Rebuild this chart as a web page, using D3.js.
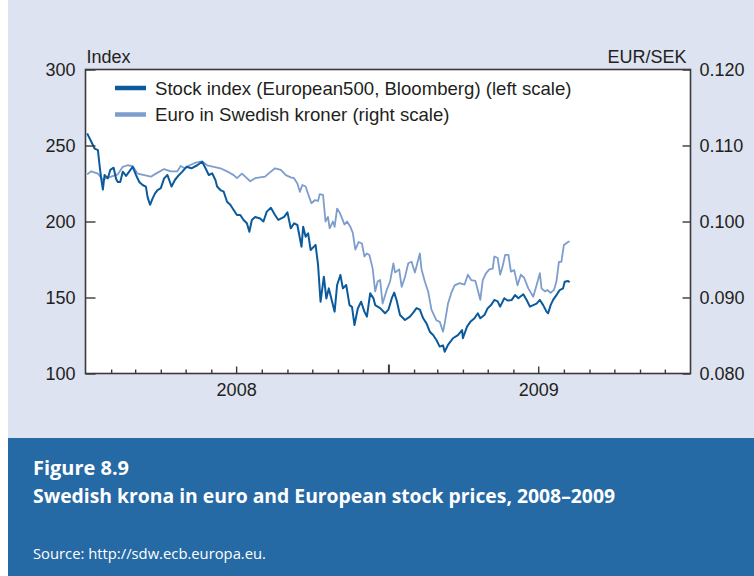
<!DOCTYPE html>
<html>
<head>
<meta charset="utf-8">
<script src="https://cdn.jsdelivr.net/npm/d3@7"></script>
<style>
  html, body { margin: 0; padding: 0; background: #ffffff; }
  svg { display: block; }
</style>
</head>
<body>
<svg id="chart" width="754" height="576"></svg>
<script>
// Stock index (European500, Bloomberg), left scale
const stockDates = [
  "2008-01-03","2008-01-08","2008-01-12","2008-01-16","2008-01-18","2008-01-20","2008-01-22","2008-01-24",
  "2008-01-28","2008-01-31","2008-02-04","2008-02-07","2008-02-09","2008-02-12","2008-02-15","2008-02-19",
  "2008-02-23","2008-02-27","2008-03-02","2008-03-06","2008-03-10","2008-03-14","2008-03-16","2008-03-19",
  "2008-03-22","2008-03-25","2008-03-28","2008-04-01","2008-04-05","2008-04-09","2008-04-14","2008-04-18",
  "2008-04-23","2008-04-27","2008-05-02","2008-05-08","2008-05-15","2008-05-21","2008-05-25","2008-05-29",
  "2008-06-02","2008-06-06","2008-06-08","2008-06-12","2008-06-16","2008-06-20","2008-06-24","2008-06-28",
  "2008-07-02","2008-07-06","2008-07-10","2008-07-14","2008-07-17","2008-07-20","2008-07-24","2008-07-30",
  "2008-08-03","2008-08-07","2008-08-12","2008-08-17","2008-08-21","2008-08-28","2008-09-01","2008-09-05",
  "2008-09-09","2008-09-13","2008-09-18","2008-09-20","2008-09-23","2008-09-26","2008-09-29","2008-10-05",
  "2008-10-08","2008-10-11","2008-10-15","2008-10-18","2008-10-21","2008-10-24","2008-10-28","2008-10-31",
  "2008-11-04","2008-11-07","2008-11-11","2008-11-15","2008-11-18","2008-11-21","2008-11-25","2008-11-29",
  "2008-12-03","2008-12-06","2008-12-10","2008-12-14","2008-12-16","2008-12-22","2008-12-28","2009-01-01",
  "2009-01-05","2009-01-08","2009-01-11","2009-01-15","2009-01-21","2009-01-27","2009-01-31","2009-02-04",
  "2009-02-08","2009-02-12","2009-02-16","2009-02-20","2009-02-24","2009-02-28","2009-03-04","2009-03-08",
  "2009-03-10","2009-03-14","2009-03-20","2009-03-26","2009-03-31","2009-04-01","2009-04-06","2009-04-10",
  "2009-04-15","2009-04-19","2009-04-22","2009-04-27","2009-05-01","2009-05-05","2009-05-09","2009-05-13",
  "2009-05-16","2009-05-21","2009-05-25","2009-05-30","2009-06-03","2009-06-07","2009-06-13","2009-06-17",
  "2009-06-21","2009-06-25","2009-06-29","2009-07-03","2009-07-07","2009-07-11","2009-07-13","2009-07-16",
  "2009-07-19","2009-07-23","2009-07-27","2009-07-31","2009-08-02","2009-08-06","2009-08-08"
];
const stockValues = [
  258, 252.5, 248, 247, 237, 228, 221, 230.6,
  228.4, 234, 235.4, 228, 226, 226, 232.8, 230,
  233, 236, 230.6, 226, 224, 223, 216, 211,
  215, 218.5, 220.7, 222, 228.4, 230.6, 223, 227.3,
  230.6, 232.8, 236, 235, 237, 239.3, 235, 230.6,
  231.7, 227.3, 223, 220.7, 219.6, 213, 211, 207.6,
  204.3, 204.3, 201, 198.8, 193.3, 201, 203, 202,
  200, 206.5, 209, 204.3, 201, 203, 206, 195.5,
  198.8, 197.7, 183.4, 196.6, 190, 192.2, 181.3, 184.6,
  171.4, 147.2, 163.7, 149.4, 156, 149.4, 140.7, 158.2,
  164.8, 156, 158.2, 145, 143.8, 131.9, 142.8, 147.2,
  140.7, 137.4, 152.8, 149.4, 145, 143, 139.6, 142,
  149.4, 153.2, 148, 138.5, 135.2, 137.4, 140, 143,
  142, 136.3, 133, 127.5, 125.3, 122, 117.7, 118.5,
  114.3, 118.8, 123.2, 125.3, 128.6, 123.2, 130.8, 134,
  136.3, 139.6, 136.3, 138.5, 143, 145, 148.4, 147.5,
  144, 149.5, 148, 148.4, 151.6, 149.5, 152.1, 148.4,
  144, 145, 146, 148.4, 145, 140.7, 139.6, 145,
  148.4, 151.6, 154.9, 156, 160.4, 160.9, 160
];

// Euro in Swedish kronor (EUR/SEK), right scale
const euroDates = [
  "2008-01-03","2008-01-08","2008-01-16","2008-01-22","2008-01-26","2008-02-01","2008-02-09","2008-02-15",
  "2008-02-21","2008-02-27","2008-03-04","2008-03-12","2008-03-20","2008-03-26","2008-04-05","2008-04-13",
  "2008-04-21","2008-04-25","2008-04-30","2008-05-06","2008-05-12","2008-05-21","2008-05-27","2008-06-04",
  "2008-06-12","2008-06-20","2008-06-28","2008-07-02","2008-07-08","2008-07-12","2008-07-18","2008-07-24",
  "2008-07-30","2008-08-05","2008-08-09","2008-08-17","2008-08-24","2008-08-30","2008-09-05","2008-09-09",
  "2008-09-13","2008-09-16","2008-09-19","2008-09-23","2008-09-27","2008-09-30","2008-10-04","2008-10-08",
  "2008-10-10","2008-10-14","2008-10-17","2008-10-20","2008-10-22","2008-10-26","2008-10-28","2008-10-31",
  "2008-11-03","2008-11-06","2008-11-09","2008-11-12","2008-11-16","2008-11-19","2008-11-22","2008-11-26",
  "2008-11-30","2008-12-03","2008-12-06","2008-12-09","2008-12-13","2008-12-16","2008-12-19","2008-12-22",
  "2008-12-25","2008-12-30","2009-01-03","2009-01-07","2009-01-09","2009-01-14","2009-01-17","2009-01-21",
  "2009-01-25","2009-01-29","2009-02-02","2009-02-08","2009-02-10","2009-02-14","2009-02-18","2009-02-22",
  "2009-02-28","2009-03-04","2009-03-08","2009-03-10","2009-03-14","2009-03-18","2009-03-22","2009-03-28",
  "2009-04-03","2009-04-07","2009-04-11","2009-04-16","2009-04-19","2009-04-22","2009-04-25","2009-04-29",
  "2009-05-03","2009-05-07","2009-05-09","2009-05-13","2009-05-16","2009-05-19","2009-05-22","2009-05-26",
  "2009-05-29","2009-06-02","2009-06-06","2009-06-10","2009-06-14","2009-06-19","2009-06-25","2009-06-29",
  "2009-07-03","2009-07-05","2009-07-09","2009-07-12","2009-07-16","2009-07-20","2009-07-23","2009-07-26",
  "2009-07-29","2009-08-01","2009-08-06","2009-08-08"
];
const euroValues = [
  0.1062, 0.1066, 0.1063, 0.1055, 0.1057, 0.1059, 0.1062, 0.1072,
  0.1074, 0.1073, 0.1063, 0.1061, 0.1059, 0.1063, 0.1069, 0.1066,
  0.1066, 0.1073, 0.1070, 0.1074, 0.1077, 0.1079, 0.1074, 0.1072,
  0.1070, 0.1066, 0.1061, 0.1057, 0.1063, 0.1059, 0.1053, 0.1057,
  0.1058, 0.1059, 0.1063, 0.1070, 0.1068, 0.1061, 0.1058, 0.1057,
  0.1050, 0.1039, 0.1048, 0.1046, 0.1033, 0.1024, 0.1028, 0.1027,
  0.1036, 0.1035, 0.1000, 0.1006, 0.0991, 0.1000, 0.0993, 0.1017,
  0.1012, 0.1004, 0.0996, 0.1000, 0.0993, 0.0985, 0.0963, 0.0973,
  0.0971, 0.0954, 0.0958, 0.0956, 0.0938, 0.0908, 0.0921, 0.0923,
  0.0892, 0.0910, 0.0921, 0.0945, 0.0933, 0.0937, 0.0914, 0.0927,
  0.0945, 0.0947, 0.0933, 0.0958, 0.0937, 0.0921, 0.0908, 0.0884,
  0.0870, 0.0868, 0.0855, 0.0866, 0.0892, 0.0906, 0.0916, 0.0919,
  0.0917, 0.0930, 0.0923, 0.0922, 0.0910, 0.0897, 0.0923, 0.0932,
  0.0937, 0.0938, 0.0954, 0.0952, 0.0930, 0.0941, 0.0956, 0.0956,
  0.0934, 0.0936, 0.0916, 0.0930, 0.0926, 0.0912, 0.0901, 0.0916,
  0.0932, 0.0912, 0.0908, 0.0910, 0.0906, 0.0910, 0.0921, 0.0947,
  0.0947, 0.0969, 0.0973, 0.0974
];

const leftTicks = [100, 150, 200, 250, 300];
const rightTicks = [0.080, 0.090, 0.100, 0.110, 0.120];
const yearLabels = ["2008", "2009"];
const seriesNames = [
  "Stock index (European500, Bloomberg) (left scale)",
  "Euro in Swedish kroner (right scale)"
];
const seriesColors = ["#0b5a9c", "#7d9dcd"];

const figureNumber = "Figure 8.9";
const figureTitle = "Swedish krona in euro and European stock prices, 2008\u20132009";
const sourceNote = "Source: http://sdw.ecb.europa.eu.";

// ---- layout ----
const W = 754, H = 576;
const plot = { left: 85.5, right: 690.5, top: 69.5, bottom: 373.5 };
const textColor = "#231f20";
const frameColor = "#3a3a3a";
const font = "'Liberation Sans', Arial, Helvetica, sans-serif";

const svg = d3.select("#chart");

// panel backgrounds
svg.append("rect").attr("x", 8).attr("y", 0).attr("width", W - 8).attr("height", 438)
  .attr("fill", "#dde3f0");
svg.append("rect").attr("x", 8).attr("y", 438).attr("width", W - 8).attr("height", H - 438)
  .attr("fill", "#2569a5");
svg.append("rect").attr("x", plot.left).attr("y", plot.top)
  .attr("width", plot.right - plot.left).attr("height", plot.bottom - plot.top)
  .attr("fill", "#ffffff");

// scales
const parse = d3.utcParse("%Y-%m-%d");
const x = d3.scaleUtc()
  .domain([parse("2008-01-01"), parse("2010-01-01")])
  .range([plot.left, plot.right]);
const yL = d3.scaleLinear().domain([100, 300]).range([plot.bottom, plot.top]);
const yR = d3.scaleLinear().domain([0.08, 0.12]).range([plot.bottom, plot.top]);

const stock = stockDates.map((d, i) => ({ date: parse(d), value: stockValues[i] }));
const euro = euroDates.map((d, i) => ({ date: parse(d), value: euroValues[i] }));

// lines
const lineL = d3.line().x(d => x(d.date)).y(d => yL(d.value));
const lineR = d3.line().x(d => x(d.date)).y(d => yR(d.value));

svg.append("path").datum(euro)
  .attr("d", lineR).attr("fill", "none")
  .attr("stroke", seriesColors[1]).attr("stroke-width", 1.8)
  .attr("stroke-linejoin", "round");
svg.append("path").datum(stock)
  .attr("d", lineL).attr("fill", "none")
  .attr("stroke", seriesColors[0]).attr("stroke-width", 2)
  .attr("stroke-linejoin", "round");

// axes
function styleAxis(g) {
  g.select(".domain").remove();
  g.selectAll(".tick line").attr("stroke", frameColor).attr("stroke-width", 1.4);
  g.selectAll(".tick text").attr("fill", textColor)
    .style("font-family", font).style("font-size", "18px");
}

svg.append("g")
  .attr("transform", `translate(${plot.left},0)`)
  .call(d3.axisLeft(yL).tickValues(leftTicks).tickSize(-10).tickPadding(10).tickFormat(d3.format("d")))
  .call(styleAxis);

svg.append("g")
  .attr("transform", `translate(${plot.right},0)`)
  .call(d3.axisRight(yR).tickValues(rightTicks).tickSize(-8).tickPadding(9).tickFormat(d3.format(".3f")))
  .call(styleAxis);

// monthly ticks along the bottom, longer at the half-year and year marks
const months = d3.utcMonth.range(parse("2008-02-01"), parse("2010-01-01"));
svg.append("g")
  .attr("transform", `translate(0,${plot.bottom})`)
  .call(d3.axisBottom(x).tickValues(months).tickSize(0).tickFormat(""))
  .call(styleAxis)
  .selectAll(".tick line")
  .attr("y2", d => d.getUTCMonth() === 0 ? -9 : (d.getUTCMonth() === 6 ? -7 : -4))
  .attr("stroke-width", d => d.getUTCMonth() === 0 ? 2 : 1.4);

// year labels centred on each year
svg.append("g")
  .attr("transform", `translate(0,${plot.bottom})`)
  .call(d3.axisBottom(x)
    .tickValues(yearLabels.map(y => parse(y + "-07-01")))
    .tickSize(0).tickPadding(10)
    .tickFormat(d3.utcFormat("%Y")))
  .call(styleAxis);

// frame
svg.append("rect").attr("x", plot.left).attr("y", plot.top)
  .attr("width", plot.right - plot.left).attr("height", plot.bottom - plot.top)
  .attr("fill", "none").attr("stroke", frameColor).attr("stroke-width", 1.6);

// axis titles
svg.append("text").attr("x", plot.left + 1).attr("y", 63)
  .attr("fill", textColor).style("font-family", font).style("font-size", "18px")
  .text("Index");
svg.append("text").attr("x", plot.right - 4).attr("y", 63).attr("text-anchor", "end")
  .attr("fill", textColor).style("font-family", font).style("font-size", "18px")
  .text("EUR/SEK");

// legend
const legend = svg.append("g").attr("transform", `translate(115,88)`);
seriesNames.forEach((name, i) => {
  const row = legend.append("g").attr("transform", `translate(0,${i * 26.5})`);
  row.append("line").attr("x1", 0).attr("x2", 31).attr("y1", 0).attr("y2", 0)
    .attr("stroke", seriesColors[i]).attr("stroke-width", 4.5);
  row.append("text").attr("x", 40).attr("y", 6.5)
    .attr("fill", textColor).style("font-family", font).style("font-size", "18.6px")
    .text(name);
});

// caption
const capFont = "'Open Sans', 'Noto Sans', sans-serif";
svg.append("text").attr("x", 33).attr("y", 475)
  .attr("fill", "#ffffff").style("font-family", capFont).style("font-weight", 700)
  .style("font-size", "20px").attr("textLength", 96).attr("lengthAdjust", "spacingAndGlyphs")
  .text(figureNumber);
svg.append("text").attr("x", 33).attr("y", 503)
  .attr("fill", "#ffffff").style("font-family", capFont).style("font-weight", 700)
  .style("font-size", "20px").attr("textLength", 582).attr("lengthAdjust", "spacingAndGlyphs")
  .text(figureTitle);
svg.append("text").attr("x", 33).attr("y", 559)
  .attr("fill", "#ffffff").style("font-family", capFont)
  .style("font-size", "15px").attr("textLength", 233).attr("lengthAdjust", "spacingAndGlyphs")
  .text(sourceNote);
</script>
</body>
</html>
